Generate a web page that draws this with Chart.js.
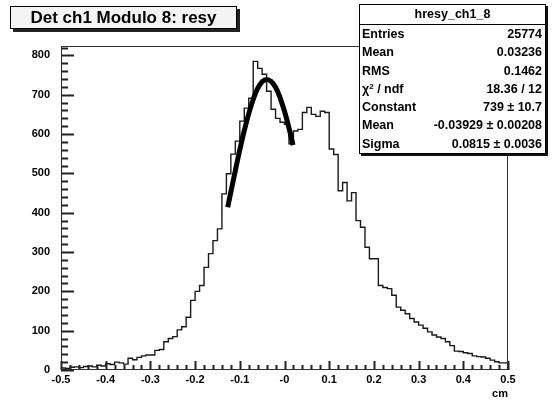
<!DOCTYPE html>
<html>
<head>
<meta charset="utf-8">
<script src="https://cdn.jsdelivr.net/npm/chart.js@4"></script>
<style>
    body { margin: 0; background: #fff; }
    #contenedor { position: relative; width: 552px; height: 406px; font-family: 'Liberation Sans', Arial, sans-serif; }
    #titulo {
        position: absolute; left: 10px; top: 6px; width: 225px; height: 21px;
        border: 1px solid #000; background: #f4f4f4; box-shadow: 3px 3px 0 #222;
        font-weight: bold; font-size: 17px; line-height: 21px; text-align: center;
    }
    #stats {
        position: absolute; left: 359px; top: 4px; width: 185px; height: 148px;
        border: 1px solid #000; background: #fff; box-shadow: 2px 2px 0 #111;
        font-weight: bold; font-size: 12.5px;
    }
    #stats .cab { height: 19px; line-height: 19px; text-align: center; border-bottom: 1px solid #000; }
    #stats .fila { display: flex; justify-content: space-between; height: 18.3px; line-height: 18.3px; padding: 0 3px 0 2px; }
    #stats sup { font-size: 8px; line-height: 0; vertical-align: 4px; }
</style>
</head>
<body>
<div id="contenedor">
    <canvas id="graficoResy" width="552" height="406"></canvas>
    <div id="titulo">Det ch1 Modulo 8: resy</div>
    <div id="stats"><div class="cab">hresy_ch1_8</div></div>
</div>
<script>
// Histograma: 100 bins de 0.01 cm entre -0.5 y 0.5
const binLow = -0.5;
const binWidth = 0.01;
const counts = [
    3, 5, 4, 7, 8, 6, 9, 10, 8, 12,
    10, 16, 14, 20, 18, 15, 30, 26, 32, 36,
    38, 38, 50, 52, 72, 80, 85, 102, 110, 134,
    177, 200, 215, 261, 296, 329, 359, 448, 499, 549,
    582, 633, 666, 691, 785, 767, 752, 709, 663, 640,
    630, 625, 575, 608, 612, 655, 668, 650, 645, 658,
    655, 562, 548, 456, 477, 430, 451, 380, 363, 312,
    283, 283, 215, 210, 207, 190, 160, 152, 143, 131,
    122, 114, 106, 97, 89, 84, 80, 72, 62, 48,
    47, 44, 42, 36, 34, 33, 30, 25, 21, 18
];

// Ajuste gaussiano
const fitX = [-0.127, -0.12, -0.11, -0.10, -0.09, -0.08, -0.07, -0.06, -0.05, -0.04, -0.03, -0.02, -0.01, 0.00, 0.01, 0.019];
const fitY = [414, 453, 507, 560, 609, 652, 688, 716, 733, 739, 734, 719, 693, 658, 616, 572];

const xTicks = [-0.5, -0.4, -0.3, -0.2, -0.1, 0, 0.1, 0.2, 0.3, 0.4, 0.5];
const xTickLabels = ['-0.5', '-0.4', '-0.3', '-0.2', '-0.1', '-0', '0.1', '0.2', '0.3', '0.4', '0.5'];
const yTicks = [0, 100, 200, 300, 400, 500, 600, 700, 800];

const statsNames = ['Entries', 'Mean', 'RMS', 'χ<sup>2</sup> / ndf', 'Constant', 'Mean', 'Sigma'];
const statsValues = ['25774', '0.03236', '0.1462', '18.36 / 12', '739 ± 10.7', '-0.03929 ± 0.00208', '0.0815 ± 0.0036'];

document.addEventListener('DOMContentLoaded', function(){
    const stats = document.getElementById('stats');
    statsNames.forEach((nombre, i) => {
        const fila = document.createElement('div');
        fila.className = 'fila';
        fila.innerHTML = '<span>' + nombre + '</span><span>' + statsValues[i] + '</span>';
        stats.appendChild(fila);
    });

    // marco y ticks hacia dentro, estilo ROOT
    const marcoRoot = {
        id: 'marcoRoot',
        afterDraw(chart) {
            const ctx = chart.ctx;
            const a = chart.chartArea;
            const sx = chart.scales.x;
            const sy = chart.scales.y;
            ctx.save();
            ctx.strokeStyle = '#333';
            ctx.lineWidth = 1;
            ctx.strokeRect(a.left + 0.5, a.top + 0.5, a.width - 1, a.height - 1);
            ctx.fillStyle = '#222';
            for (let i = 0; i <= 50; i++) {
                const px = Math.round(sx.getPixelForValue(-0.5 + i * 0.02));
                const len = i % 5 === 0 ? 9 : 5;
                ctx.fillRect(px - 0.5, a.bottom - len, 2, len);
            }
            for (let i = 0; i * 20 <= sy.max; i++) {
                const py = Math.round(sy.getPixelForValue(i * 20));
                const len = i % 5 === 0 ? 13 : 7;
                ctx.fillRect(a.left, py - 0.5, len, 2);
            }
            ctx.restore();
        }
    };

    const histData = counts.map((c, i) => ({x: binLow + i * binWidth, y: c}));
    histData.push({x: binLow + counts.length * binWidth, y: counts[counts.length - 1]});

    const fuenteEjes = {family: 'Liberation Sans', weight: 'bold', size: 11};

    const ctx = document.getElementById('graficoResy').getContext('2d');
    new Chart(ctx, {
        type: 'line',
        data: {
            datasets: [
                {
                    label: 'hresy_ch1_8',
                    data: histData,
                    stepped: 'after',
                    borderColor: '#1a1a1a',
                    borderWidth: 1.4,
                    pointRadius: 0,
                    fill: false,
                    order: 2
                },
                {
                    label: 'gaus',
                    data: fitX.map((v, i) => ({x: v, y: fitY[i]})),
                    borderColor: '#000',
                    borderWidth: 5,
                    pointRadius: 0,
                    tension: 0.4,
                    fill: false,
                    order: 1
                }
            ]
        },
        options: {
            responsive: false,
            animation: false,
            layout: { padding: {left: 0, right: 44, top: 46, bottom: 0} },
            plugins: {
                legend: { display: false },
                tooltip: { enabled: false }
            },
            scales: {
                x: {
                    type: 'linear',
                    min: -0.5,
                    max: 0.5,
                    grid: { display: false, drawTicks: false },
                    border: { display: false },
                    afterBuildTicks: scale => { scale.ticks = xTicks.map(v => ({value: v})); },
                    afterFit: scale => { scale.height = 36; },
                    ticks: {
                        font: fuenteEjes,
                        color: '#000',
                        padding: 3,
                        maxRotation: 0,
                        autoSkip: false,
                        callback: (value, index) => xTickLabels[index]
                    },
                    title: {
                        display: true,
                        text: 'cm',
                        align: 'end',
                        color: '#000',
                        font: fuenteEjes,
                        padding: {top: 0, bottom: 5}
                    }
                },
                y: {
                    min: 0,
                    max: 824,
                    grid: { display: false, drawTicks: false },
                    border: { display: false },
                    afterBuildTicks: scale => { scale.ticks = yTicks.map(v => ({value: v})); },
                    afterFit: scale => { scale.width = 61; },
                    ticks: {
                        font: fuenteEjes,
                        color: '#000',
                        padding: 11,
                        callback: value => String(value)
                    }
                }
            }
        },
        plugins: [marcoRoot]
    });
});
</script>
</body>
</html>
